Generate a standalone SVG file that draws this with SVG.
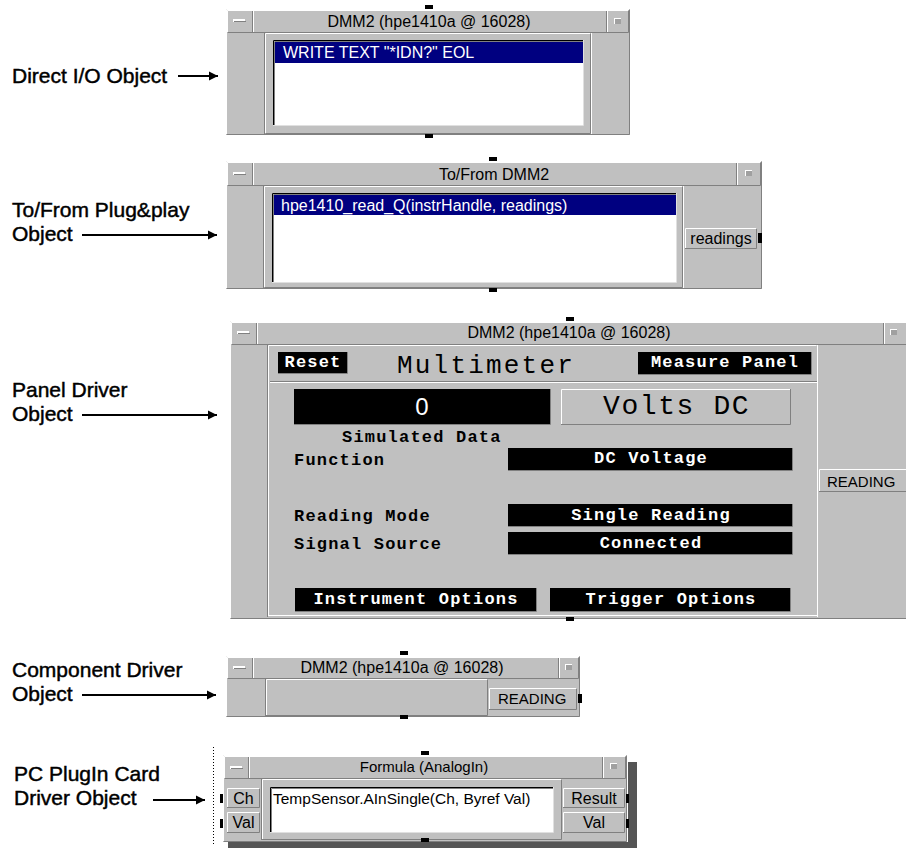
<svg xmlns="http://www.w3.org/2000/svg" width="906" height="849" viewBox="0 0 906 849">
<defs>
<style>
.face{fill:#c0c0c0}
.hl{fill:none;stroke:#ffffff;stroke-width:1}
.sh{fill:none;stroke:#808080;stroke-width:1}
.pin{fill:#000}
.blk{fill:#000}
.wbox{fill:#fff}
.sel{fill:#000080}
.ttl{font-family:"Liberation Sans",Arial,sans-serif;font-size:16px;fill:#000;text-anchor:middle}
.ui{font-family:"Liberation Sans",Arial,sans-serif;font-size:16px;fill:#000}
.uiw{font-family:"Liberation Sans",Arial,sans-serif;font-size:16px;fill:#fff}
.btn{font-family:"Liberation Sans",Arial,sans-serif;font-size:15px;fill:#000}
.mono{font-family:"Liberation Mono","Courier New",monospace;font-weight:bold;font-size:17px;letter-spacing:1.2px;fill:#000}
.monow{font-family:"Liberation Mono","Courier New",monospace;font-weight:bold;font-size:17px;letter-spacing:1.2px;fill:#fff;text-anchor:middle}
.lbl{font-family:"Liberation Sans",Arial,sans-serif;font-size:21px;fill:#000;stroke:#000;stroke-width:0.45px}
.arr{stroke:#000;stroke-width:2;fill:none;marker-end:url(#ah)}
</style>
<marker id="ah" markerUnits="userSpaceOnUse" markerWidth="10" markerHeight="10" refX="9" refY="5" orient="auto">
<path d="M0,0.5 L9,5 L0,9.5 z" fill="#000"/>
</marker>
</defs>
<rect width="906" height="849" fill="#fff"/>

<!-- Labels -->
<g id="labels">
<text class="lbl" x="12" y="83">Direct I/O Object</text>
<text class="lbl" x="12" y="217">To/From Plug&amp;play</text>
<text class="lbl" x="12" y="241">Object</text>
<text class="lbl" x="12" y="397">Panel Driver</text>
<text class="lbl" x="12" y="421">Object</text>
<text class="lbl" x="12" y="677">Component Driver</text>
<text class="lbl" x="12" y="701">Object</text>
<text class="lbl" x="14" y="781">PC PlugIn Card</text>
<text class="lbl" x="14" y="805">Driver Object</text>
</g>

<!-- Object 1: Direct I/O -->
<g id="direct-io">
<rect class="face" x="226" y="9" width="404" height="126"/>
<path class="hl" d="M226.5,134.5 V9.5 H629.5"/>
<path class="sh" d="M629.5,9.5 V134.5 H226.5"/>
<path class="hl" d="M227.5,32.5 V10.5 H628.5"/>
<path class="sh" d="M628.5,10.5 V32.5 H227.5"/>
<path class="sh" d="M252.5,11 V32"/><path class="hl" d="M253.5,11 V32"/>
<path class="sh" d="M606.5,11 V32"/><path class="hl" d="M607.5,11 V32"/>
<rect x="233" y="19" width="12" height="3" fill="#fff"/><rect x="234" y="21" width="12" height="1" fill="#808080"/>
<rect x="614" y="18" width="7" height="6" fill="#fff"/><rect x="615" y="19" width="6" height="5" fill="#a0a0a0"/>
<text class="ttl" x="429" y="27">DMM2 (hpe1410a @ 16028)</text>
<path class="sh" d="M264.5,33 V134"/>
<path class="hl" d="M265.5,133 V33.5 H590.5"/>
<path class="sh" d="M590.5,33.5 V133.5 H265.5"/>
<path class="hl" d="M591.5,33 V134"/>
<rect class="wbox" x="273" y="40" width="310" height="85"/>
<path d="M273.5,125 V40.5 H583" stroke="#000" fill="none"/>
<path d="M274.5,125 V41.5 H583" stroke="#808080" fill="none"/>
<path d="M583.5,40 V125.5 H273" stroke="#e0e0e0" fill="none"/>
<rect class="sel" x="275" y="42" width="308" height="21"/>
<text class="uiw" x="283" y="58">WRITE TEXT "*IDN?" EOL</text>
<rect class="pin" x="425" y="5" width="8" height="4"/>
<rect class="pin" x="425" y="134" width="8" height="4"/>
</g>

<!-- Object 2: To/From -->
<g id="to-from">
<rect class="face" x="226" y="161" width="536" height="128"/>
<path class="hl" d="M226.5,288.5 V161.5 H761.5"/>
<path class="sh" d="M761.5,161.5 V288.5 H226.5"/>
<path class="hl" d="M227.5,185.5 V162.5 H760.5"/>
<path class="sh" d="M760.5,162.5 V185.5 H227.5"/>
<path class="sh" d="M252.5,163 V185"/><path class="hl" d="M253.5,163 V185"/>
<path class="sh" d="M736.5,163 V185"/><path class="hl" d="M737.5,163 V185"/>
<rect x="233" y="172" width="12" height="3" fill="#fff"/><rect x="234" y="174" width="12" height="1" fill="#808080"/>
<rect x="745" y="170" width="7" height="6" fill="#fff"/><rect x="746" y="171" width="6" height="5" fill="#a0a0a0"/>
<text class="ttl" x="494" y="180">To/From DMM2</text>
<path class="sh" d="M263.5,186 V288"/>
<path class="hl" d="M264.5,287 V186.5 H682.5"/>
<path class="sh" d="M682.5,186.5 V287.5 H264.5"/>
<path class="hl" d="M683.5,186 V288"/>
<rect class="wbox" x="272" y="193" width="404" height="89"/>
<path d="M272.5,282 V193.5 H676" stroke="#000" fill="none"/>
<path d="M273.5,282 V194.5 H676" stroke="#808080" fill="none"/>
<path d="M676.5,193 V282.5 H272" stroke="#e0e0e0" fill="none"/>
<rect class="sel" x="274" y="195" width="402" height="20"/>
<text class="uiw" x="281" y="211">hpe1410_read_Q(instrHandle, readings)</text>
<rect class="face" x="685" y="228" width="72" height="21"/>
<path class="hl" d="M685.5,249 V228.5 H757"/>
<path class="sh" d="M756.5,228.5 V248.5 H685"/>
<text class="ui" x="721" y="244" text-anchor="middle">readings</text>
<rect class="pin" x="758" y="233" width="4" height="10"/>
<rect class="pin" x="489" y="157" width="8" height="4"/>
<rect class="pin" x="489" y="288" width="8" height="4"/>
</g>

<!-- Object 3: Panel Driver -->
<g id="panel-driver">
<rect class="face" x="230" y="321" width="676" height="298"/>
<path class="hl" d="M230.5,618.5 V321.5 H906"/>
<path class="sh" d="M906,618.5 H230.5"/>
<path class="hl" d="M231.5,344.5 V322.5 H906"/>
<path class="sh" d="M906,344.5 H231.5"/>
<path class="sh" d="M256.5,323 V344"/><path class="hl" d="M257.5,323 V344"/>
<path class="sh" d="M883.5,323 V344"/><path class="hl" d="M884.5,323 V344"/>
<rect x="237" y="331" width="12" height="3" fill="#fff"/><rect x="238" y="333" width="12" height="1" fill="#808080"/>
<rect x="890" y="329" width="7" height="6" fill="#fff"/><rect x="891" y="330" width="6" height="5" fill="#a0a0a0"/>
<text class="ttl" x="569" y="338">DMM2 (hpe1410a @ 16028)</text>
<path class="sh" d="M267.5,345 V617"/>
<path class="hl" d="M268.5,616 V345.5 H816.5"/>
<path class="hl" d="M269,615.5 H817"/>
<path class="hl" d="M817.5,345 V617"/>
<path class="hl" d="M270,382.5 H817"/>
<path class="sh" d="M270,381.5 H817"/>
<rect class="blk" x="278" y="352" width="69" height="21"/>
<path class="sh" d="M347.5,352 V373.5 H278"/>
<text class="monow" x="313" y="367">Reset</text>
<text x="397" y="373" font-family="'Liberation Mono','Courier New',monospace" font-size="26px" letter-spacing="2.2px" fill="#000">Multimeter</text>
<rect class="blk" x="638" y="352" width="173" height="22"/>
<path class="sh" d="M811.5,352 V374.5 H638"/>
<text class="monow" x="725" y="367">Measure Panel</text>
<rect class="blk" x="294" y="389" width="256" height="35"/>
<path class="sh" d="M550.5,389 V424.5 H294"/>
<text x="422" y="415" font-family="'Liberation Sans',Arial,sans-serif" font-size="24px" fill="#fff" text-anchor="middle">0</text>
<rect class="face" x="561" y="389" width="229" height="35"/>
<path class="hl" d="M561.5,424 V389.5 H790"/>
<path class="sh" d="M790.5,389 V424.5 H561"/>
<text x="603" y="414" font-family="'Liberation Mono','Courier New',monospace" font-size="28px" letter-spacing="1.6px" fill="#000">Volts DC</text>
<text class="mono" x="342" y="442">Simulated Data</text>
<text class="mono" x="294" y="465">Function</text>
<rect class="blk" x="508" y="448" width="284" height="22"/>
<path class="sh" d="M792.5,448 V470.5 H508"/>
<text class="monow" x="651" y="463">DC Voltage</text>
<text class="mono" x="294" y="521">Reading Mode</text>
<rect class="blk" x="508" y="504" width="284" height="22"/>
<path class="sh" d="M792.5,504 V526.5 H508"/>
<text class="monow" x="651" y="520">Single Reading</text>
<text class="mono" x="294" y="549">Signal Source</text>
<rect class="blk" x="508" y="532" width="284" height="22"/>
<path class="sh" d="M792.5,532 V554.5 H508"/>
<text class="monow" x="651" y="548">Connected</text>
<rect class="blk" x="295" y="588" width="241" height="23"/>
<path class="sh" d="M536.5,588 V611.5 H295"/>
<text class="monow" x="416" y="604">Instrument Options</text>
<rect class="blk" x="550" y="588" width="240" height="23"/>
<path class="sh" d="M790.5,588 V611.5 H550"/>
<text class="monow" x="671" y="604">Trigger Options</text>
<path class="hl" d="M819.5,492 V469.5 H906"/>
<path class="sh" d="M906,491.5 H819"/>
<text class="btn" x="827" y="487">READING</text>
<rect class="pin" x="566" y="317" width="8" height="4"/>
<rect class="pin" x="566" y="617" width="8" height="4"/>
</g>

<!-- Object 4: Component Driver -->
<g id="component-driver">
<rect class="face" x="226" y="656" width="354" height="61"/>
<path class="hl" d="M226.5,716.5 V656.5 H579.5"/>
<path class="sh" d="M579.5,656.5 V716.5 H226.5"/>
<path class="hl" d="M227.5,678.5 V657.5 H578.5"/>
<path class="sh" d="M578.5,657.5 V678.5 H227.5"/>
<path class="sh" d="M252.5,658 V678"/><path class="hl" d="M253.5,658 V678"/>
<path class="sh" d="M558.5,658 V678"/><path class="hl" d="M559.5,658 V678"/>
<rect x="233" y="666" width="12" height="3" fill="#fff"/><rect x="234" y="668" width="12" height="1" fill="#808080"/>
<rect x="565" y="664" width="7" height="6" fill="#fff"/><rect x="566" y="665" width="6" height="5" fill="#a0a0a0"/>
<text class="ttl" x="402" y="673">DMM2 (hpe1410a @ 16028)</text>
<path class="sh" d="M265.5,679 V716"/>
<path class="hl" d="M266.5,715 V679.5 H487.5"/>
<path class="sh" d="M487.5,679.5 V715.5 H266"/>
<rect class="face" x="489" y="688" width="88" height="22"/>
<path class="hl" d="M489.5,710 V688.5 H577"/>
<path class="sh" d="M576.5,688.5 V709.5 H489"/>
<text class="btn" x="498" y="704">READING</text>
<rect class="pin" x="578" y="694" width="4" height="9"/>
<rect class="pin" x="400" y="651" width="8" height="4"/>
<rect class="pin" x="400" y="715" width="8" height="4"/>
</g>

<!-- Object 5: Formula -->
<g id="formula">
<path d="M213.5,747 V846" stroke="#000" stroke-width="1" stroke-dasharray="1,2" fill="none"/>
<rect x="628" y="762" width="9" height="86" fill="#555"/>
<rect x="228" y="842" width="409" height="6" fill="#555"/>
<rect class="face" x="223" y="755" width="404" height="87"/>
<path class="hl" d="M223.5,841.5 V755.5 H626.5"/>
<path class="sh" d="M626.5,755.5 V841.5 H223.5"/>
<path class="hl" d="M224.5,778.5 V756.5 H625.5"/>
<path class="sh" d="M625.5,756.5 V778.5 H224.5"/>
<path class="sh" d="M248.5,757 V778"/><path class="hl" d="M249.5,757 V778"/>
<path class="sh" d="M602.5,757 V778"/><path class="hl" d="M603.5,757 V778"/>
<rect x="230" y="766" width="12" height="3" fill="#fff"/><rect x="231" y="768" width="12" height="1" fill="#808080"/>
<rect x="610" y="763" width="7" height="6" fill="#fff"/><rect x="611" y="764" width="6" height="5" fill="#a0a0a0"/>
<text class="ttl" x="424" y="772" style="font-size:15px">Formula (AnalogIn)</text>
<path class="hl" d="M227.5,808 V788.5 H260"/>
<path class="sh" d="M259.5,788.5 V807.5 H227"/>
<text class="btn" x="243.5" y="804" text-anchor="middle" style="font-size:16px">Ch</text>
<path class="hl" d="M227.5,833 V812.5 H260"/>
<path class="sh" d="M259.5,812.5 V832.5 H227"/>
<text class="btn" x="243.5" y="828" text-anchor="middle" style="font-size:16px">Val</text>
<path class="sh" d="M261.5,779 V840"/>
<path class="hl" d="M262.5,839 V779.5 H561.5"/>
<path class="sh" d="M561.5,779.5 V839.5 H262"/>
<rect class="wbox" x="270" y="787" width="283" height="45"/>
<path d="M270.5,832 V787.5 H553" stroke="#000" fill="none"/>
<path d="M271.5,832 V788.5 H553" stroke="#808080" fill="none"/>
<path d="M553.5,787 V832.5 H270" stroke="#e0e0e0" fill="none"/>
<text class="ui" x="273" y="804" style="font-size:15.5px">TempSensor.AInSingle(Ch, Byref Val)</text>
<path class="hl" d="M563.5,808 V788.5 H625"/>
<path class="sh" d="M624.5,788.5 V807.5 H563"/>
<text class="btn" x="594" y="804" text-anchor="middle" style="font-size:16px">Result</text>
<path class="hl" d="M563.5,833 V812.5 H625"/>
<path class="sh" d="M624.5,812.5 V832.5 H563"/>
<text class="btn" x="594" y="828" text-anchor="middle" style="font-size:16px">Val</text>
<rect class="pin" x="220" y="794" width="3" height="9"/>
<rect class="pin" x="220" y="819" width="3" height="9"/>
<rect class="pin" x="626" y="794" width="3" height="9"/>
<rect class="pin" x="626" y="819" width="3" height="9"/>
<rect class="pin" x="421" y="751" width="8" height="4"/>
<rect class="pin" x="421" y="838" width="8" height="4"/>
</g>

<!-- Connectors -->
<g id="connectors">
<path class="arr" d="M178,76 H218"/>
<path class="arr" d="M82,235 H217"/>
<path class="arr" d="M82,415 H217"/>
<path class="arr" d="M82,695 H216"/>
<path class="arr" d="M153,800 H205"/>
</g>
</svg>
